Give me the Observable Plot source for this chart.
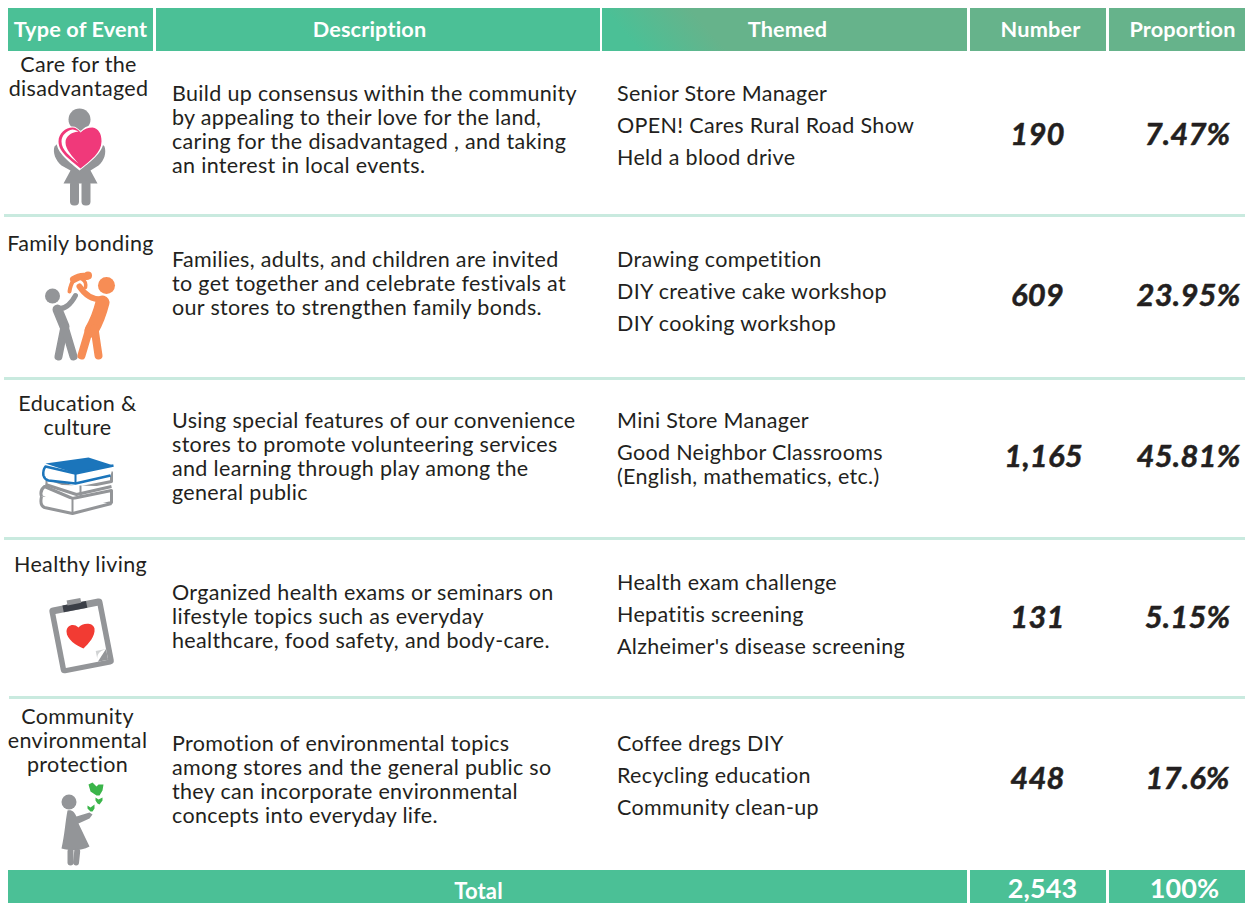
<!DOCTYPE html>
<html><head><meta charset="utf-8">
<script src="https://cdn.jsdelivr.net/npm/d3@7"></script>
<script src="https://cdn.jsdelivr.net/npm/@observablehq/plot@0.6"></script>
<style>html,body{margin:0;padding:0;background:#fff;overflow:hidden}svg{display:block}.body-text{letter-spacing:.33px}</style>
</head><body><div id="chart"></div>
<script>
// ---- data ----
const headers = ["Type of Event","Description","Themed","Number","Proportion"];
const eventLines = [
  ["Care for the","disadvantaged"],
  ["Family bonding"],
  ["Education &","culture"],
  ["Healthy living"],
  ["Community","environmental","protection"]
];
const descriptionLines = [
  ["Build up consensus within the community","by appealing to their love for the land,","caring for the disadvantaged , and taking","an interest in local events."],
  ["Families, adults, and children are invited","to get together and celebrate festivals at","our stores to strengthen family bonds."],
  ["Using special features of our convenience","stores to promote volunteering services","and learning through play among the","general public"],
  ["Organized health exams or seminars on","lifestyle topics such as everyday","healthcare, food safety, and body-care."],
  ["Promotion of environmental topics","among stores and the general public so","they can incorporate environmental","concepts into everyday life."]
];
const themeLines = [
  ["Senior Store Manager","OPEN! Cares Rural Road Show","Held a blood drive"],
  ["Drawing competition","DIY creative cake workshop","DIY cooking workshop"],
  ["Mini Store Manager","Good Neighbor Classrooms","(English, mathematics, etc.)"],
  ["Health exam challenge","Hepatitis screening","Alzheimer's disease screening"],
  ["Coffee dregs DIY","Recycling education","Community clean-up"]
];
const numbers = ["190","609","1,165","131","448"];
const proportions = ["7.47%","23.95%","45.81%","5.15%","17.6%"];
const totalLabel = "Total", totalNumber = "2,543", totalProportion = "100%";

// ---- layout (table geometry, separate from the data) ----
const W = 1245, H = 903, FONT = "Lato, Carlito, sans-serif", INK = "#231f20";
const headerCols = [[8,153],[156,600],[602,967],[970,1106],[1109,1245]];
const headerX = [80,369,787,1040,1182];
const footCols = [[8,967],[970,1106],[1109,1245]];
const footX = [478,1042,1184];
const footTextY = [891,889,889];
const headY = [8,51], footY = [870,903];
const separators = [[4,215],[4,378],[4,538],[9,697]];
const eventX = [78,80,77,80,77];
const eventTop = [64.5,243.5,403.5,564.5,716.5];
const textTop = [93.5,259.5,420.5,582.5,743.5];
const descTop = [93.5,259.5,420.5,592.5,743.5];
const themeGaps = [[0,32,64],[0,32,64],[0,32,56],[0,32,64],[0,32,64]];
const numY = [134.5,295.5,456.5,617.5,778.5];
const numX = [1037,1037,1043,1037,1037];
const propX = [1187,1188,1188,1187,1187];
const iconBox = [[50,105,58,102],[40,268,78,94],[38,453,78,64],[46,596,70,78],[58,780,48,88]];

// ---- icons ----
const G="#939598", P="#f0397a";
const svgUri = (box, body) => "data:image/svg+xml," + encodeURIComponent(
 `<svg xmlns="http://www.w3.org/2000/svg" viewBox="${box[0]} ${box[1]} ${box[2]} ${box[3]}" width="${box[2]}" height="${box[3]}">${body}</svg>`);
const icons = [
`<circle cx="79" cy="119" r="11" fill="${G}"/>
 <path d="M71 130 H88 L104 146 C106 152 104 160 98 165 L90 170 L97 183 H63 L70 170 L61 165 C55 160 52 152 54 146Z" fill="${G}"/>
 <rect x="69.500" y="180" width="9" height="25" rx="4" fill="${G}"/><rect x="81" y="180" width="9" height="25" rx="4" fill="${G}"/>
 <path d="M79 170 C70 162 56 153 56 141 C56 131 65 125 72 126 C75 126 78 128 80 131 C83 127 87 125 91 125 C98 126 103 132 103 141 C103 152 89 162 79 170Z" fill="#fff"/>
 <path d="M80 168 C71 160 58 152 58 141 C58 133 65 127 72 127 C75 127 78 129 80 132 C84 128 88 127 92 127 C98 128 101 133 101 141 C101 152 90 160 80 168Z" fill="${P}"/>
 <path d="M78 163 C70 156 61 150 61 141 C61 135 66 130 72 129 C74 129 76 130 78 131 C70 132 65 136 65 142 C65 149 72 156 78 163Z" fill="#fff"/>`,
`<g fill="none" stroke-linecap="round" stroke-linejoin="round">
 <g stroke="${G}"><path d="M56 308 Q67 310 75 295" stroke-width="5"/><path d="M57 309 L64 326" stroke-width="10"/><path d="M64 326 L58 356" stroke-width="8"/><path d="M64 326 L73 356" stroke-width="8"/></g>
 <g stroke="#f78d55"><path d="M103 299 Q88 300 79 286" stroke-width="6"/><path d="M102 302 Q98 318 91 330" stroke-width="14"/><path d="M89 328 L81 355" stroke-width="8"/><path d="M94 328 L98 355" stroke-width="8"/>
 <path d="M73 279 Q79 275 86 276" stroke-width="7"/><path d="M73 280 Q70 284 69 291" stroke-width="4"/><path d="M82 279 Q86 281 85 287" stroke-width="3.500"/></g></g>
 <circle cx="52" cy="295.500" r="7.500" fill="${G}"/><circle cx="106" cy="285" r="8.500" fill="#f78d55"/><circle cx="87.500" cy="275" r="4" fill="#f78d55"/>`,
`<g fill="#fff" stroke="${G}" stroke-width="3" stroke-linejoin="round">
 <path d="M41 496 L72 511 L111 502 V490 L72 498 L44 486 Q39 490 41 496Z"/><path d="M41 496 Q39 505 44 507 L72 513 L111 503"/><path d="M72 498 V512" stroke-width="2"/>
 <path d="M45 477 L76 488 L111 481 V472 L76 478 L43 474Z"/><path d="M45 484 L76 494 L111 486"/><path d="M46 478 V486 M80 485 V496" stroke-width="2"/></g>
 <path d="M45 463 L88 457 L113 465 L75 473Z" fill="#1b75bb"/>
 <path d="M113 465 L75 473 L45 466 Q42 470 43 475 Q44 479 48 480 L75 483 L110 475" fill="#fff" stroke="#1b75bb" stroke-width="2.500" stroke-linejoin="round"/>
 <path d="M75 473 V483" stroke="#1b75bb" stroke-width="2" fill="none"/>`,
`<g transform="rotate(-11 80.500 635)">
 <rect x="54" y="602" width="54" height="67" rx="4" fill="${G}"/>
 <rect x="59.500" y="609" width="43" height="55" fill="#fff"/>
 <path d="M92 664 L102.500 653 L102.500 664Z" fill="${G}"/>
 <path d="M92 664 Q91 654 102.500 653 L92 653Z" fill="#d1d3d4"/>
 <rect x="68" y="602" width="24" height="7" fill="#3b3f47"/><rect x="73" y="598" width="14" height="5" fill="${G}"/></g>
 <path d="M83 648 C76 645 66 639 66 631 C66 625 73 622 78 627 C81 623 92 621 94 628 C95 636 88 643 83 648Z" fill="#f23b33"/>`,
`<circle cx="68.500" cy="801.500" r="7.500" fill="${G}"/>
 <path d="M67 810 C72 809 74 812 76 816 L89 812 L92 814 L89 818 L78 823 L89 846 C80 851 70 850 61 848 C64 835 65 820 67 810Z" fill="${G}"/>
 <rect x="67" y="848" width="6" height="17" rx="3" fill="${G}"/><rect x="74" y="848" width="6" height="17" rx="3" fill="${G}" transform="rotate(6 77 848)"/>
 <g fill="#3bb54a"><path d="M96 795 L90 791 L88 784 L92 782 L96 786 L98 784 L103 784 L102 790 L99 795Z"/>
 <path d="M97 803 L95 800 L95 797 L98 799 L102 797 L102 800 L99 804Z"/><path d="M90 811 L87 808 L87 805 L90 807 L94 804 L94 808 L92 811Z"/></g>`
];

// ---- derived tables ----
const cellsOf = (lines, xOf, yOf) => lines.flatMap((ls, r) => ls.map((text, i) => ({text, x: xOf(r), y: yOf(r, i)})));
const rowIdx = d3.range(numbers.length);
const headerCells = headers.map((text, i) => ({text, x: headerX[i], x1: headerCols[i][0], x2: headerCols[i][1]}));
const footCells = [totalLabel, totalNumber, totalProportion].map((text, i) => ({text, x: footX[i], y: footTextY[i], x1: footCols[i][0], x2: footCols[i][1]}));
const LH = 24, BODY = 21.5;

const chart = Plot.plot({
  width: W, height: H, margin: 0,
  style: {background: "#fff", fontFamily: FONT, letterSpacing: "0.15px"},
  x: {type: "linear", domain: [0, W], range: [0, W], axis: null},
  y: {type: "linear", domain: [0, H], range: [0, H], axis: null},
  marks: [
    () => {
      const s = d3.create("svg:defs");
      const g = s.append("linearGradient").attr("id","hg").attr("gradientUnits","userSpaceOnUse")
        .attr("x1",640).attr("y1",51).attr("x2",690).attr("y2",8);
      g.append("stop").attr("offset",0).attr("stop-color","#4bc096");
      g.append("stop").attr("offset",1).attr("stop-color","#66b38b");
      return s.node();
    },
    Plot.rect(headerCells, {x1:"x1", x2:"x2", y1:()=>headY[0], y2:()=>headY[1], fill:(d,i)=> i<2 ? "#4bc096" : i==2 ? "url(#hg)" : "#66b38b"}),
    Plot.rect(footCells, {x1:"x1", x2:"x2", y1:()=>footY[0], y2:()=>footY[1], fill:"#4bc096"}),
    Plot.ruleY(separators, {x1:d=>d[0], x2:()=>W, y:d=>d[1], stroke:"#c9eadf", strokeWidth:3}),
    Plot.text(headerCells, {x:"x", y:()=>30, text:"text", fill:"#fff", fontWeight:700, fontSize:21.7}),
    Plot.text(footCells, {x:"x", y:"y", text:"text", fill:"#fff", fontWeight:700, fontSize:(d,i)=> i ? 27 : 22}),
    Plot.text(cellsOf(eventLines, r=>eventX[r], (r,i)=>eventTop[r]+i*LH), {x:"x", y:"y", text:"text", fill:INK, fontSize:BODY, className:"body-text"}),
    Plot.text(cellsOf(descriptionLines, ()=>171.5, (r,i)=>descTop[r]+i*LH), {x:"x", y:"y", text:"text", textAnchor:"start", fill:INK, fontSize:BODY, className:"body-text"}),
    Plot.text(cellsOf(themeLines, ()=>616.5, (r,i)=>textTop[r]+themeGaps[r][i]), {x:"x", y:"y", text:"text", textAnchor:"start", fill:INK, fontSize:BODY, className:"body-text"}),
    Plot.text(rowIdx, {x:r=>numX[r], y:r=>numY[r], text:r=>numbers[r], fill:INK, stroke:INK, strokeWidth:0.5, fontWeight:700, fontStyle:"italic", fontSize:31}),
    Plot.text(rowIdx, {x:r=>propX[r], y:r=>numY[r], text:r=>proportions[r], fill:INK, stroke:INK, strokeWidth:0.5, fontWeight:700, fontStyle:"italic", fontSize:31}),
    Plot.image(rowIdx, {x:r=>iconBox[r][0]+iconBox[r][2]/2, y:r=>iconBox[r][1]+iconBox[r][3]/2, width:r=>iconBox[r][2], height:r=>iconBox[r][3], src:r=>svgUri(iconBox[r], icons[r])})
  ]
});
document.getElementById("chart").append(chart);
</script></body></html>
